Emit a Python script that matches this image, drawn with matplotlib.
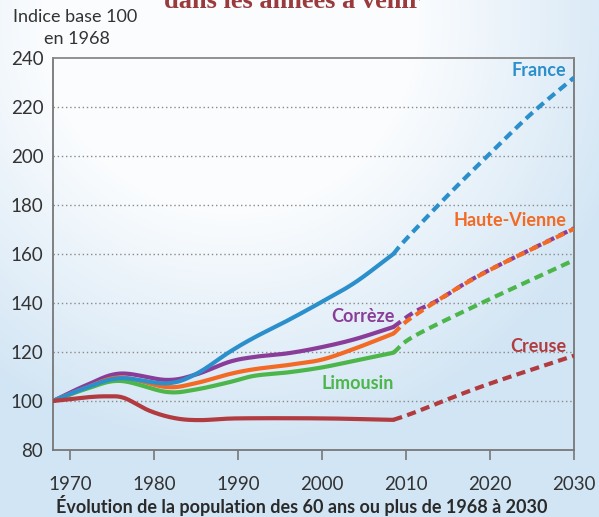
import numpy as np
import matplotlib
matplotlib.use("Agg")
import matplotlib.pyplot as plt

# observed values (solid part, 1968-2008)
years = [1968, 1972, 1976, 1981.5, 1985, 1989, 1992, 1996, 2000, 2004, 2008.5]
france = [100, 105.5, 109.3, 107.2, 111, 120, 126, 133, 140.5, 148.5, 160]
correze = [100, 106.5, 111.2, 108.6, 110.8, 116, 118, 119.5, 122, 125.3, 130.2]
haute_vienne = [100, 105.5, 109.6, 105.7, 107.3, 111, 113, 114.7, 116.9, 121.5, 127.5]
limousin = [100, 105, 108.2, 103.7, 104.7, 107.7, 110.3, 111.7, 113.7, 116.5, 119.7]
creuse_years = [1968, 1972, 1974.5, 1976.5, 1979.5, 1982.5, 1985.5, 1990, 2000, 2008.5]
creuse = [100, 101.5, 101.9, 101.2, 96, 93, 92.2, 92.9, 92.9, 92.3]

# projections (dashed, 2008-2030)
proj_france_years = [2008.5, 2010, 2015, 2020, 2025, 2030]
proj_france = [160, 166, 184, 201, 217.5, 232]
proj_correze_years = [2008.5, 2011, 2014, 2019, 2030]
proj_correze = [130.2, 136.3, 141.5, 151.8, 170.5]
proj_hv_years = [2008.5, 2011, 2019, 2030]
proj_hv = [127.5, 134.8, 151.7, 170.3]
proj_lim_years = [2008.5, 2011, 2019, 2030]
proj_lim = [119.7, 126.5, 140, 157.5]
proj_creuse_years = [2008.5, 2011, 2019, 2030]
proj_creuse = [92.3, 95.3, 105.9, 118.5]

xticks = [1970, 1980, 1990, 2000, 2010, 2020, 2030]
yticks = [80, 100, 120, 140, 160, 180, 200, 220, 240]

c_france = "#2b8fcc"
c_correze = "#8a3d98"
c_hv = "#f26a24"
c_lim = "#4cb64a"
c_creuse = "#b13b3f"


def smooth(xs, ys, n=20):
    # catmull-rom through the read points
    x = np.array(xs, float)
    y = np.array(ys, float)
    px = np.concatenate([[2 * x[0] - x[1]], x, [2 * x[-1] - x[-2]]])
    py = np.concatenate([[2 * y[0] - y[1]], y, [2 * y[-1] - y[-2]]])
    out_x, out_y = [], []
    t = np.linspace(0, 1, n, endpoint=False)
    for i in range(1, len(px) - 2):
        for arr, out in ((px, out_x), (py, out_y)):
            p0, p1, p2, p3 = arr[i - 1], arr[i], arr[i + 1], arr[i + 2]
            out.extend(0.5 * ((2 * p1) + (-p0 + p2) * t
                              + (2 * p0 - 5 * p1 + 4 * p2 - p3) * t ** 2
                              + (-p0 + 3 * p1 - 3 * p2 + p3) * t ** 3))
    out_x.append(x[-1])
    out_y.append(y[-1])
    return out_x, out_y


plt.rcParams["font.family"] = ["Lato", "DejaVu Sans"]

fig = plt.figure(figsize=(5.99, 5.17), dpi=100)

# background gradient
W, H = 599, 517
gx, gy = np.meshgrid(np.arange(W), np.arange(H))
d = np.sqrt(((gx - 230) / 420.0) ** 2 + ((gy - 20) / 430.0) ** 2)
t = np.clip((d - 0.45) / 0.55, 0, 1)[..., None]
white = np.array([250, 252, 254]) / 255.0
blue = np.array([210, 229, 244]) / 255.0
img = white * (1 - t) + blue * t
bg = fig.add_axes([0, 0, 1, 1], zorder=-5)
bg.imshow(img, aspect="auto", extent=[0, 1, 0, 1])
bg.axis("off")

ax = fig.add_axes([53 / W, 1 - 450 / H, 521 / W, 392 / H])
ax.set_facecolor("none")

for yv in yticks[1:-1]:
    ax.axhline(yv, color="#8a8a8a", lw=1.0, ls=(0, (1, 2)), zorder=1)

series = [
    (years, correze, proj_correze_years, proj_correze, c_correze),
    (years, haute_vienne, proj_hv_years, proj_hv, c_hv),
    (years, limousin, proj_lim_years, proj_lim, c_lim),
    (years, france, proj_france_years, proj_france, c_france),
    (creuse_years, creuse, proj_creuse_years, proj_creuse, c_creuse),
]
for xs, ys, pxs, pys, col in series:
    sx, sy = smooth(xs, ys)
    ax.plot(sx, sy, color=col, lw=3.0, solid_capstyle="round", zorder=3)
    dx, dy = smooth(pxs, pys)
    ax.plot(dx, dy, color=col, lw=3.0, ls=(0, (2.2, 1.3)), zorder=3)

lbl = dict(fontsize=13, fontweight="bold")
ax.text(2029.1, 235, "France", color=c_france, ha="right", va="center", **lbl)
ax.text(2029.1, 173.6, "Haute-Vienne", color=c_hv, ha="right", va="center", **lbl)
ax.text(2029.1, 122.3, "Creuse", color=c_creuse, ha="right", va="center", **lbl)
ax.text(2008.6, 134.3, "Corrèze", color=c_correze, ha="right", va="center", **lbl)
ax.text(2008.6, 107.3, "Limousin", color=c_lim, ha="right", va="center", **lbl)

ax.set_xlim(1968, 2030)
ax.set_ylim(80, 240)
ax.set_xticks(xticks)
ax.set_yticks(yticks)
ax.tick_params(axis="x", direction="out", length=7.5, width=1.2, color="#777777",
               pad=11, labelsize=13.5, labelcolor="#333333")
ax.tick_params(axis="y", length=0, pad=7, labelsize=13.5, labelcolor="#333333")
for s in ax.spines.values():
    s.set_color("#777777")
    s.set_linewidth(1.3)
ax.spines["top"].set_color("#888888")

fig.text(13 / W, 1 - 17 / H, "Indice base 100", fontsize=13, color="#333333",
         va="center", ha="left")
fig.text(44 / W, 1 - 39 / H, "en 1968", fontsize=13, color="#333333",
         va="center", ha="left")
fig.text(292 / W, 1 - 8 / H, "dans les années à venir", fontsize=19,
         fontweight="bold", color="#9a3a3c", family="Liberation Serif",
         ha="center", va="baseline")
fig.text(302 / W, 1 - 505 / H,
         "Évolution de la population des 60 ans ou plus de 1968 à 2030",
         fontsize=13, fontweight="bold", color="#2a2a2a", ha="center", va="center")

fig.savefig("out.png", dpi=100)
